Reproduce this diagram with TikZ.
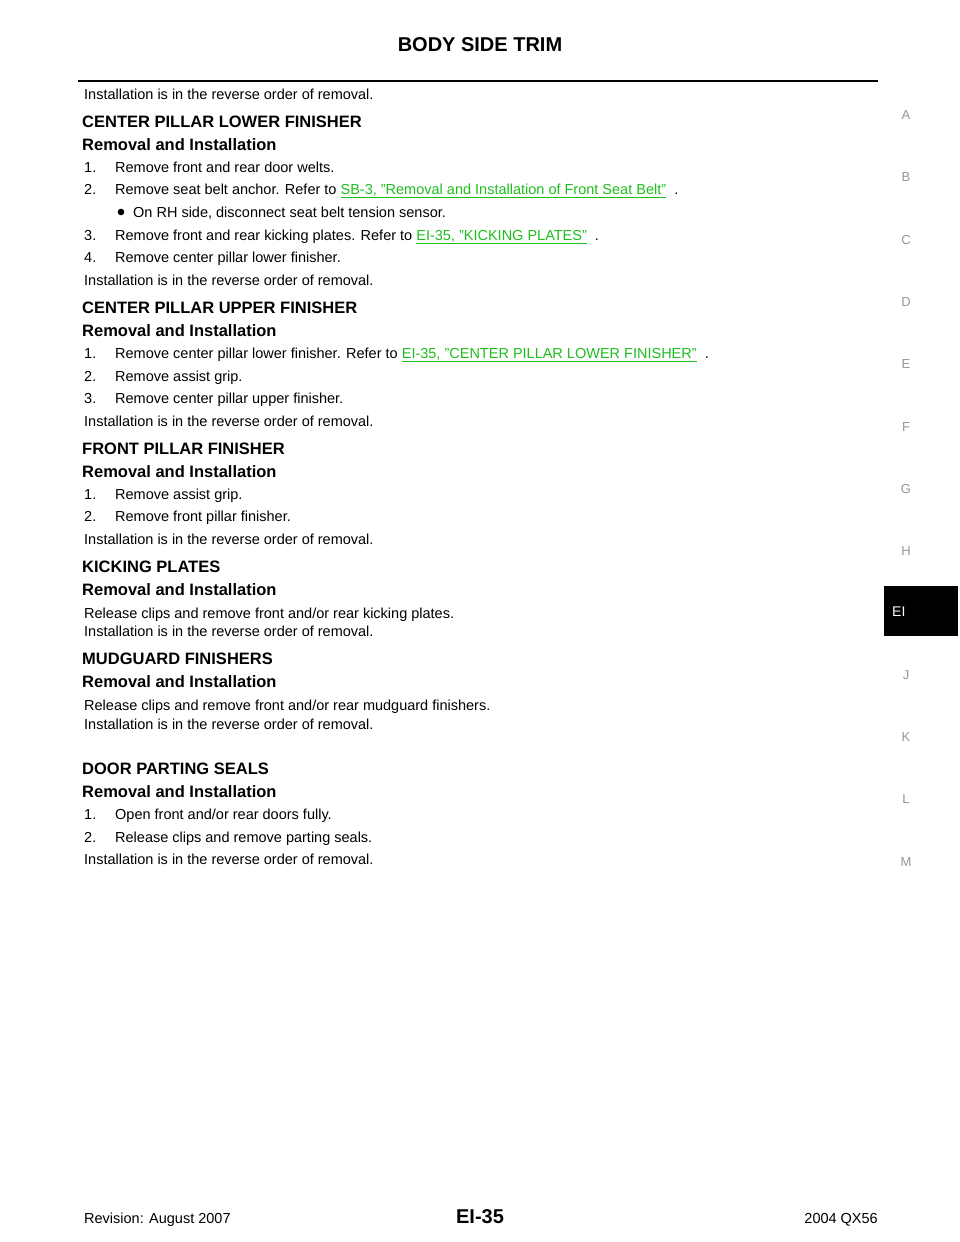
\documentclass[tikz,border=0pt]{standalone}
\usepackage{fontspec}
\setmainfont{Liberation Sans}
\usepackage{xcolor}
\definecolor{lk}{RGB}{30,190,30}
\definecolor{sg}{RGB}{150,150,150}
\newcommand{\lnk}[1]{\textcolor{lk}{\underline{#1}}}
\begin{document}
\begin{tikzpicture}[x=1pt,y=1pt,
  tx/.style={anchor=base west,inner sep=0pt,font=\fontsize{14.5}{16}\selectfont},
  hd/.style={anchor=base west,inner sep=0pt,font=\fontsize{16.5}{18}\selectfont\bfseries},
  sd/.style={anchor=base,inner sep=0pt,text=sg,font=\fontsize{13}{14}\selectfont}]
\useasboundingbox (0,0) rectangle (960,-1242);
\fill[white] (0,0) rectangle (960,-1242);
\newcommand{\T}[4][tx]{\node[#1] at (#3,-#2-5) {#4};}
\node[anchor=base,inner sep=0pt,font=\fontsize{20}{22}\selectfont\bfseries] (title) at (480,-51) {BODY SIDE TRIM};
\draw[line width=2pt] (78,-81) -- (878,-81);
\T{94}{84}{Installation is in the reverse order of removal.}
\T[hd]{122}{82}{CENTER PILLAR LOWER FINISHER}
\T[hd]{145}{82}{Removal and Installation}
\T{167}{84}{1.}\T{167}{115}{Remove front and rear door welts.}
\T{189}{84}{2.}\T{189}{115}{Remove seat belt anchor. Refer to \lnk{SB-3, "Removal and Installation of Front Seat Belt"}\ \ .}
\fill (121,-212) circle (3.3);
\T{212}{133}{On RH side, disconnect seat belt tension sensor.}
\T{235}{84}{3.}\T{235}{115}{Remove front and rear kicking plates. Refer to \lnk{EI-35, "KICKING PLATES"}\ \ .}
\T{257}{84}{4.}\T{257}{115}{Remove center pillar lower finisher.}
\T{280}{84}{Installation is in the reverse order of removal.}
\T[hd]{308}{82}{CENTER PILLAR UPPER FINISHER}
\T[hd]{331}{82}{Removal and Installation}
\T{353}{84}{1.}\T{353}{115}{Remove center pillar lower finisher. Refer to \lnk{EI-35, "CENTER PILLAR LOWER FINISHER"}\ \ .}
\T{376}{84}{2.}\T{376}{115}{Remove assist grip.}
\T{398}{84}{3.}\T{398}{115}{Remove center pillar upper finisher.}
\T{421}{84}{Installation is in the reverse order of removal.}
\T[hd]{449}{82}{FRONT PILLAR FINISHER}
\T[hd]{472}{82}{Removal and Installation}
\T{494}{84}{1.}\T{494}{115}{Remove assist grip.}
\T{516}{84}{2.}\T{516}{115}{Remove front pillar finisher.}
\T{539}{84}{Installation is in the reverse order of removal.}
\T[hd]{567}{82}{KICKING PLATES}
\T[hd]{590}{82}{Removal and Installation}
\T{613}{84}{Release clips and remove front and/or rear kicking plates.}
\T{631}{84}{Installation is in the reverse order of removal.}
\T[hd]{659}{82}{MUDGUARD FINISHERS}
\T[hd]{682}{82}{Removal and Installation}
\T{705}{84}{Release clips and remove front and/or rear mudguard finishers.}
\T{724}{84}{Installation is in the reverse order of removal.}
\T[hd]{769}{82}{DOOR PARTING SEALS}
\T[hd]{792}{82}{Removal and Installation}
\T{814}{84}{1.}\T{814}{115}{Open front and/or rear doors fully.}
\T{837}{84}{2.}\T{837}{115}{Release clips and remove parting seals.}
\T{859}{84}{Installation is in the reverse order of removal.}
% side index
\foreach \l/\yy in {A/114,B/176,C/239,D/301,E/363,F/426,G/488,H/550,J/674,K/736,L/798,M/861}
  \node[sd] at (906,-\yy-5) {\l};
\fill (884,-586) rectangle (958,-636);
\node[anchor=base west,inner sep=0pt,text=white,font=\fontsize{14}{15}\selectfont] (ei) at (892,-616) {EI};
% footer
\T{1218}{84}{Revision: August 2007}
\node[anchor=base,inner sep=0pt,font=\fontsize{20}{22}\selectfont\bfseries] (pg) at (480,-1223) {EI-35};
\node[anchor=base east,inner sep=0pt,font=\fontsize{14.5}{16}\selectfont] (mdl) at (878,-1223) {2004 QX56};
\end{tikzpicture}
\end{document}
